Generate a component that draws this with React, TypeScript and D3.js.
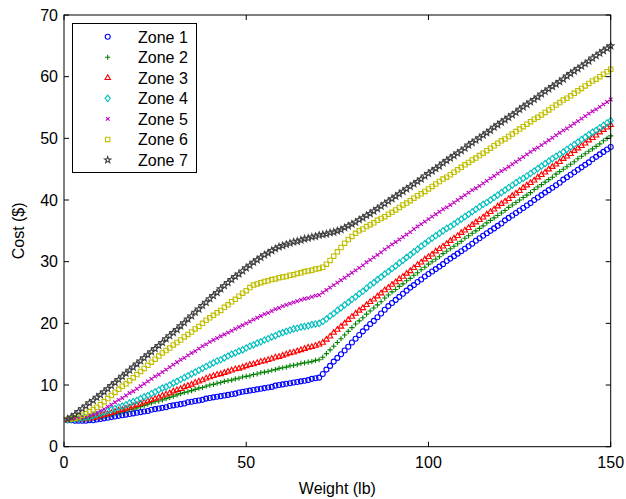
import React from "react";
import * as d3 from "d3";

// weights 1..150 lb, one marker per lb
const weights = d3.range(1, 151);

const zone1 = [
  4.3, 4.3, 4.2, 4.2, 4.2, 4.2, 4.3, 4.3, 4.4, 4.5,
  4.6, 4.7, 4.8, 4.9, 5.0, 5.1, 5.2, 5.3, 5.4, 5.5,
  5.6, 5.7, 5.8, 6.0, 6.1, 6.2, 6.3, 6.4, 6.6, 6.7,
  6.8, 6.9, 7.0, 7.2, 7.3, 7.4, 7.5, 7.6, 7.8, 7.9,
  8.0, 8.1, 8.2, 8.3, 8.4, 8.5, 8.6, 8.8, 8.9, 9.0,
  9.1, 9.2, 9.3, 9.4, 9.5, 9.6, 9.7, 9.9, 10.0, 10.1,
  10.2, 10.3, 10.4, 10.5, 10.6, 10.7, 10.8, 11.0, 11.1, 11.2,
  11.8, 12.5, 13.1, 13.8, 14.4, 15.0, 15.6, 16.2, 16.9, 17.5,
  18.1, 18.7, 19.3, 19.9, 20.4, 21.0, 21.6, 22.2, 22.8, 23.3,
  23.8, 24.3, 24.8, 25.3, 25.8, 26.2, 26.7, 27.1, 27.6, 28.0,
  28.4, 28.8, 29.2, 29.6, 30.1, 30.5, 30.9, 31.3, 31.7, 32.1,
  32.5, 32.9, 33.4, 33.8, 34.2, 34.6, 35.0, 35.4, 35.8, 36.2,
  36.7, 37.1, 37.5, 37.9, 38.3, 38.7, 39.1, 39.5, 40.0, 40.4,
  40.8, 41.2, 41.6, 42.0, 42.4, 42.8, 43.3, 43.7, 44.1, 44.5,
  44.9, 45.3, 45.7, 46.1, 46.6, 47.0, 47.4, 47.8, 48.2, 48.6,
];

const zone2 = [
  4.4, 4.4, 4.4, 4.4, 4.4, 4.5, 4.5, 4.6, 4.7, 4.8,
  4.9, 5.1, 5.2, 5.4, 5.5, 5.7, 5.8, 6.0, 6.1, 6.3,
  6.5, 6.7, 6.9, 7.1, 7.3, 7.4, 7.6, 7.8, 8.0, 8.2,
  8.4, 8.6, 8.8, 8.9, 9.1, 9.3, 9.5, 9.6, 9.8, 10.0,
  10.1, 10.3, 10.4, 10.6, 10.7, 10.8, 11.0, 11.1, 11.3, 11.4,
  11.5, 11.7, 11.8, 12.0, 12.1, 12.2, 12.4, 12.5, 12.7, 12.8,
  12.9, 13.1, 13.2, 13.3, 13.5, 13.6, 13.7, 13.8, 14.0, 14.1,
  14.5, 15.1, 15.7, 16.3, 16.9, 17.5, 18.1, 18.7, 19.3, 19.9,
  20.4, 20.9, 21.5, 22.0, 22.5, 23.0, 23.5, 24.1, 24.6, 25.1,
  25.5, 26.0, 26.4, 26.9, 27.3, 27.8, 28.2, 28.7, 29.1, 29.6,
  30.0, 30.4, 30.8, 31.3, 31.7, 32.1, 32.5, 32.9, 33.3, 33.8,
  34.2, 34.6, 35.0, 35.4, 35.8, 36.3, 36.7, 37.1, 37.5, 37.9,
  38.3, 38.8, 39.2, 39.6, 40.0, 40.4, 40.8, 41.2, 41.7, 42.1,
  42.5, 42.9, 43.3, 43.7, 44.2, 44.6, 45.0, 45.4, 45.8, 46.2,
  46.7, 47.1, 47.5, 47.9, 48.3, 48.7, 49.1, 49.6, 50.0, 50.4,
];

const zone3 = [
  4.4, 4.4, 4.4, 4.4, 4.5, 4.5, 4.6, 4.7, 4.8, 5.0,
  5.2, 5.3, 5.5, 5.7, 5.9, 6.0, 6.2, 6.4, 6.6, 6.8,
  7.0, 7.2, 7.4, 7.6, 7.8, 8.0, 8.3, 8.5, 8.7, 9.0,
  9.2, 9.4, 9.7, 9.9, 10.1, 10.4, 10.6, 10.8, 11.1, 11.3,
  11.5, 11.7, 11.8, 12.0, 12.2, 12.4, 12.6, 12.7, 12.9, 13.1,
  13.3, 13.4, 13.6, 13.8, 13.9, 14.1, 14.3, 14.5, 14.6, 14.8,
  15.0, 15.2, 15.3, 15.5, 15.7, 15.9, 16.1, 16.2, 16.4, 16.6,
  16.9, 17.4, 17.9, 18.5, 19.0, 19.5, 20.0, 20.6, 21.1, 21.6,
  22.1, 22.5, 23.0, 23.5, 23.9, 24.4, 24.9, 25.4, 25.8, 26.3,
  26.7, 27.2, 27.6, 28.1, 28.5, 29.0, 29.5, 29.9, 30.4, 30.8,
  31.2, 31.7, 32.1, 32.5, 32.9, 33.4, 33.8, 34.2, 34.7, 35.1,
  35.5, 36.0, 36.4, 36.8, 37.2, 37.7, 38.1, 38.5, 39.0, 39.4,
  39.8, 40.2, 40.7, 41.1, 41.5, 42.0, 42.4, 42.8, 43.2, 43.7,
  44.1, 44.5, 45.0, 45.4, 45.8, 46.2, 46.7, 47.1, 47.5, 48.0,
  48.4, 48.8, 49.2, 49.7, 50.1, 50.5, 51.0, 51.4, 51.8, 52.2,
];

const zone4 = [
  4.4, 4.4, 4.5, 4.5, 4.6, 4.7, 4.8, 5.0, 5.2, 5.4,
  5.6, 5.8, 6.0, 6.2, 6.4, 6.6, 6.8, 7.1, 7.3, 7.5,
  7.8, 8.1, 8.3, 8.6, 8.9, 9.2, 9.5, 9.7, 10.0, 10.3,
  10.6, 10.9, 11.2, 11.5, 11.8, 12.1, 12.4, 12.7, 13.0, 13.3,
  13.6, 13.9, 14.1, 14.4, 14.7, 15.0, 15.2, 15.5, 15.7, 16.0,
  16.3, 16.5, 16.8, 17.0, 17.3, 17.5, 17.8, 18.0, 18.3, 18.5,
  18.7, 18.9, 19.1, 19.2, 19.4, 19.5, 19.6, 19.8, 19.9, 20.0,
  20.3, 20.7, 21.2, 21.6, 22.1, 22.5, 23.0, 23.4, 23.9, 24.3,
  24.8, 25.2, 25.7, 26.2, 26.6, 27.1, 27.5, 28.0, 28.4, 28.9,
  29.3, 29.8, 30.2, 30.7, 31.1, 31.6, 32.0, 32.5, 32.9, 33.4,
  33.8, 34.2, 34.6, 35.0, 35.4, 35.7, 36.1, 36.5, 36.9, 37.3,
  37.7, 38.1, 38.5, 38.9, 39.3, 39.6, 40.0, 40.4, 40.8, 41.2,
  41.6, 42.0, 42.4, 42.8, 43.2, 43.5, 43.9, 44.3, 44.7, 45.1,
  45.5, 45.9, 46.3, 46.7, 47.1, 47.4, 47.8, 48.2, 48.6, 49.0,
  49.4, 49.8, 50.2, 50.6, 51.0, 51.3, 51.7, 52.1, 52.5, 52.9,
];

const zone5 = [
  4.4, 4.4, 4.5, 4.6, 4.8, 4.9, 5.1, 5.3, 5.5, 5.8,
  6.1, 6.5, 6.8, 7.2, 7.6, 7.9, 8.3, 8.7, 9.0, 9.4,
  9.8, 10.2, 10.6, 11.0, 11.4, 11.7, 12.1, 12.5, 12.9, 13.3,
  13.7, 14.1, 14.4, 14.8, 15.2, 15.5, 15.9, 16.3, 16.6, 17.0,
  17.3, 17.6, 17.9, 18.2, 18.5, 18.8, 19.1, 19.4, 19.7, 20.0,
  20.3, 20.6, 20.9, 21.2, 21.5, 21.7, 22.0, 22.3, 22.5, 22.8,
  23.0, 23.2, 23.4, 23.6, 23.8, 24.0, 24.1, 24.3, 24.5, 24.6,
  25.0, 25.4, 25.8, 26.2, 26.6, 27.0, 27.4, 27.8, 28.2, 28.6,
  29.0, 29.4, 29.9, 30.3, 30.7, 31.1, 31.5, 32.0, 32.4, 32.8,
  33.2, 33.6, 34.0, 34.4, 34.8, 35.3, 35.7, 36.1, 36.5, 36.9,
  37.3, 37.7, 38.1, 38.5, 38.8, 39.2, 39.6, 40.0, 40.4, 40.8,
  41.2, 41.6, 41.9, 42.3, 42.7, 43.1, 43.5, 43.9, 44.3, 44.7,
  45.0, 45.4, 45.8, 46.2, 46.6, 47.0, 47.4, 47.8, 48.2, 48.5,
  48.9, 49.3, 49.7, 50.1, 50.5, 50.9, 51.3, 51.6, 52.0, 52.4,
  52.8, 53.2, 53.6, 54.0, 54.4, 54.7, 55.1, 55.5, 55.9, 56.3,
];

const zone6 = [
  4.4, 4.5, 4.6, 4.8, 5.1, 5.4, 5.7, 6.0, 6.4, 6.8,
  7.3, 7.8, 8.3, 8.8, 9.3, 9.8, 10.2, 10.7, 11.2, 11.7,
  12.2, 12.7, 13.2, 13.7, 14.2, 14.7, 15.2, 15.6, 16.0, 16.5,
  16.9, 17.3, 17.8, 18.2, 18.6, 19.1, 19.5, 20.0, 20.5, 20.9,
  21.3, 21.7, 22.1, 22.6, 23.0, 23.5, 23.9, 24.4, 24.9, 25.3,
  25.8, 26.2, 26.4, 26.6, 26.8, 26.9, 27.1, 27.2, 27.4, 27.5,
  27.6, 27.8, 27.9, 28.1, 28.2, 28.4, 28.5, 28.6, 28.8, 28.9,
  29.1, 29.6, 30.2, 30.9, 31.6, 32.3, 33.0, 33.6, 34.1, 34.6,
  35.0, 35.3, 35.7, 36.0, 36.3, 36.7, 37.0, 37.3, 37.7, 38.0,
  38.4, 38.8, 39.2, 39.5, 39.9, 40.3, 40.7, 41.0, 41.4, 41.8,
  42.2, 42.6, 43.0, 43.4, 43.7, 44.1, 44.5, 44.9, 45.3, 45.7,
  46.1, 46.5, 46.8, 47.2, 47.6, 48.0, 48.4, 48.8, 49.2, 49.6,
  49.9, 50.3, 50.7, 51.1, 51.5, 51.9, 52.3, 52.7, 53.1, 53.4,
  53.8, 54.2, 54.6, 55.0, 55.4, 55.8, 56.2, 56.5, 56.9, 57.3,
  57.7, 58.1, 58.5, 58.9, 59.3, 59.6, 60.0, 60.4, 60.8, 61.2,
];

const zone7 = [
  4.5, 4.8, 5.2, 5.7, 6.2, 6.6, 7.1, 7.5, 8.0, 8.4,
  8.9, 9.4, 9.9, 10.4, 10.9, 11.4, 11.9, 12.4, 12.9, 13.4,
  13.9, 14.4, 14.9, 15.4, 15.9, 16.4, 16.9, 17.5, 18.0, 18.5,
  19.0, 19.6, 20.1, 20.7, 21.2, 21.8, 22.3, 22.9, 23.4, 24.0,
  24.5, 25.0, 25.6, 26.1, 26.6, 27.1, 27.6, 28.0, 28.5, 29.0,
  29.4, 29.9, 30.3, 30.7, 31.1, 31.4, 31.8, 32.1, 32.4, 32.6,
  32.8, 33.0, 33.2, 33.3, 33.5, 33.7, 33.8, 34.0, 34.1, 34.3,
  34.4, 34.5, 34.7, 34.8, 35.0, 35.2, 35.5, 35.8, 36.1, 36.4,
  36.8, 37.1, 37.5, 37.8, 38.2, 38.6, 39.0, 39.4, 39.8, 40.2,
  40.6, 41.0, 41.4, 41.8, 42.2, 42.6, 43.0, 43.4, 43.9, 44.3,
  44.7, 45.1, 45.5, 46.0, 46.4, 46.8, 47.2, 47.6, 48.0, 48.4,
  48.9, 49.3, 49.7, 50.1, 50.5, 50.9, 51.3, 51.8, 52.2, 52.6,
  53.0, 53.4, 53.8, 54.2, 54.7, 55.1, 55.5, 55.9, 56.3, 56.7,
  57.2, 57.6, 58.0, 58.4, 58.8, 59.2, 59.6, 60.1, 60.5, 60.9,
  61.3, 61.7, 62.1, 62.5, 63.0, 63.4, 63.8, 64.2, 64.6, 65.0,
];

const zoneNames = ["Zone 1", "Zone 2", "Zone 3", "Zone 4", "Zone 5", "Zone 6", "Zone 7"];
const zoneValues = [zone1, zone2, zone3, zone4, zone5, zone6, zone7];
const zoneColors = ["#0000ff", "#008000", "#ff0000", "#00bfbf", "#bf00bf", "#bfbf00", "#404040"];
const zoneMarkers = ["circle", "plus", "triangle", "diamond", "cross", "square", "star"];

const xTicks = [0, 50, 100, 150];
const yTicks = [0, 10, 20, 30, 40, 50, 60, 70];

const W = 626;
const H = 499;
const left = 64;
const right = 610.7;
const top = 15;
const bottom = 446.7;
const font = "'Liberation Sans', Arial, Helvetica, sans-serif";

// marker outline centred on 0,0
function markerPath(kind: string): string {
  switch (kind) {
    case "circle":
      return "M2.5,0A2.5,2.5 0 1,1 -2.5,0A2.5,2.5 0 1,1 2.5,0Z";
    case "plus":
      return "M-2.6,0H2.6M0,-2.6V2.6";
    case "triangle":
      return "M0,-3L2.7,1.7L-2.7,1.7Z";
    case "diamond":
      return "M0,-3.2L2.6,0L0,3.2L-2.6,0Z";
    case "cross":
      return "M-1.8,-1.8L1.8,1.8M-1.8,1.8L1.8,-1.8";
    case "square":
      return "M-2.2,-2.2H2.2V2.2H-2.2Z";
    default: {
      const pts: string[] = [];
      for (let i = 0; i < 10; i++) {
        const r = i % 2 === 0 ? 3.4 : 1.4;
        const a = -Math.PI / 2 + (i * Math.PI) / 5;
        pts.push(`${(r * Math.cos(a)).toFixed(2)},${(r * Math.sin(a)).toFixed(2)}`);
      }
      return "M" + pts.join("L") + "Z";
    }
  }
}

export default function App() {
  const x = d3.scaleLinear().domain([0, 150]).range([left, right]);
  const y = d3.scaleLinear().domain([0, 70]).range([bottom, top]);

  const legendX = 72.5;
  const legendY = 23.5;
  const rowH = 20.55;

  return (
    <svg width={W} height={H} style={{ position: "absolute", left: 0, top: 0 }}>
      <rect width={W} height={H} fill="white" />

      {/* series */}
      {zoneValues.map((vals, zi) => {
        const d = markerPath(zoneMarkers[zi]);
        return (
          <g key={zi} fill="none" stroke={zoneColors[zi]} strokeWidth={1.1}>
            {weights.map((w, i) => (
              <path key={i} d={d} transform={`translate(${x(w)},${y(vals[i])})`} />
            ))}
          </g>
        );
      })}

      {/* axes box and ticks */}
      <g stroke="black" strokeWidth={1} fill="none">
        <rect x={left} y={top} width={right - left} height={bottom - top} />
        {xTicks.map((t) => (
          <g key={"x" + t}>
            <line x1={x(t)} x2={x(t)} y1={bottom} y2={bottom - 5} />
            <line x1={x(t)} x2={x(t)} y1={top} y2={top + 5} />
          </g>
        ))}
        {yTicks.map((t) => (
          <g key={"y" + t}>
            <line x1={left} x2={left + 5} y1={y(t)} y2={y(t)} />
            <line x1={right} x2={right - 5} y1={y(t)} y2={y(t)} />
          </g>
        ))}
      </g>

      <g fontFamily={font} fontSize={16} fill="black">
        {xTicks.map((t) => (
          <text key={"xl" + t} x={x(t)} y={bottom + 21} textAnchor="middle">
            {t}
          </text>
        ))}
        {yTicks.map((t) => (
          <text key={"yl" + t} x={left - 6} y={y(t) + 5.5} textAnchor="end">
            {t}
          </text>
        ))}
        <text x={(left + right) / 2} y={494} textAnchor="middle">
          Weight (lb)
        </text>
        <text transform={`translate(24,${(top + bottom) / 2}) rotate(-90)`} textAnchor="middle">
          Cost ($)
        </text>
      </g>

      {/* legend */}
      <rect x={legendX} y={legendY} width={124} height={149} fill="white" stroke="black" strokeWidth={1} />
      {zoneNames.map((name, i) => (
        <g key={name} transform={`translate(0,${legendY + 13.2 + i * rowH})`}>
          <path
            d={markerPath(zoneMarkers[i])}
            transform="translate(107.7,0)"
            fill="none"
            stroke={zoneColors[i]}
            strokeWidth={1.1}
          />
          <text x={138} y={5.8} fontFamily={font} fontSize={16} fill="black">
            {name}
          </text>
        </g>
      ))}
    </svg>
  );
}
